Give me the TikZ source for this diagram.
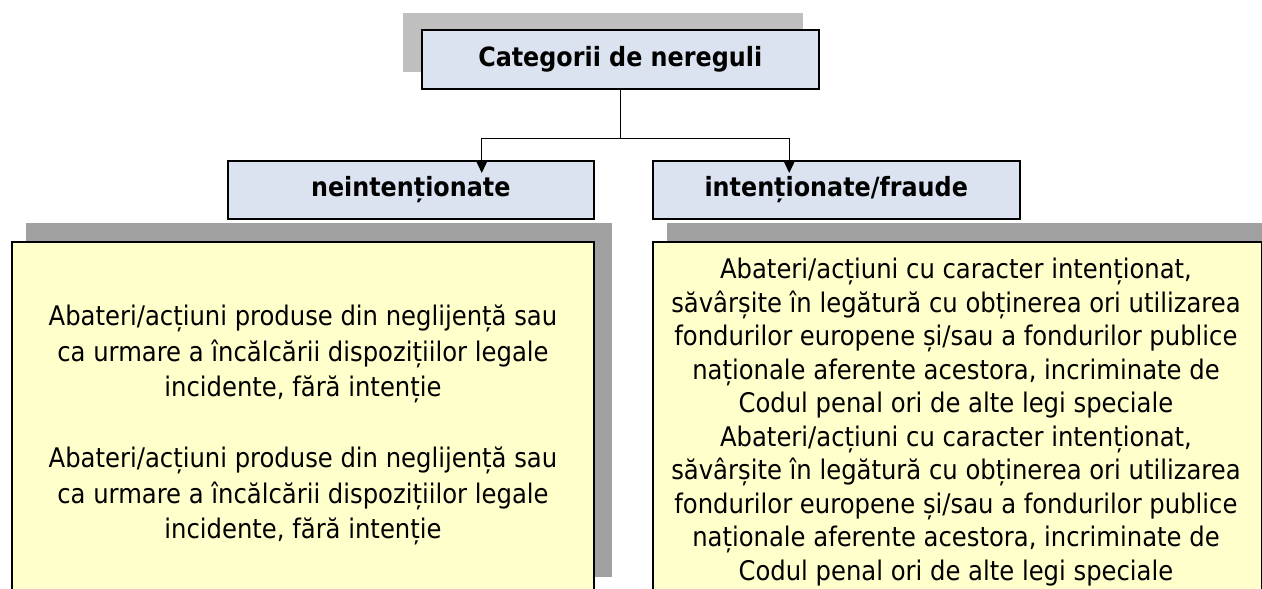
\documentclass[tikz,border=0pt]{standalone}
\usepackage{fontspec}
\setmainfont{DejaVu Sans Condensed}
\usetikzlibrary{arrows.meta}
\definecolor{hdr}{HTML}{DCE3F0}
\definecolor{note}{HTML}{FFFFCC}
\definecolor{shadeA}{HTML}{BFBFBF}
\definecolor{shadeB}{HTML}{A0A0A0}
\begin{document}
\begin{tikzpicture}[x=1pt,y=-1pt,
  hdrbox/.style={draw=black,line width=1.5pt,fill=hdr,anchor=north west,inner sep=0pt,
    font=\bfseries\fontsize{26.5}{30}\selectfont},
  notebox/.style={draw=black,line width=1.5pt,fill=note,anchor=north west,inner sep=0pt},
  notetext/.style={anchor=north,align=center,inner sep=0pt},
  arr/.style={line width=1.2pt,-{Triangle[length=13pt,width=12pt]}}]
\useasboundingbox (0,0) rectangle (1262,589);
\clip (0,0) rectangle (1262,589);
% shadows
\fill[shadeA] (403,13) rectangle (803,72);
\fill[shadeB] (26,223) rectangle (612,577);
\fill[shadeB] (667,223) rectangle (1270,600);
% boxes
\node[hdrbox,minimum width=397pt,minimum height=59pt] (top) at (421,29) {Categorii de nereguli};
\node[hdrbox,minimum width=366pt,minimum height=58pt] (neint) at (227,160) {neintenționate};
\node[hdrbox,minimum width=367pt,minimum height=58pt] (intf) at (652,160) {intenționate/fraude};
\node[notebox,minimum width=582pt,minimum height=400pt] (lbox) at (11,241) {};
\node[notebox,minimum width=609pt,minimum height=400pt] (rbox) at (652,241) {};
% texts
\node[notetext,font=\fontsize{27}{35.5}\selectfont] (ltext) at (303,305) {Abateri/acțiuni produse din neglijență sau\\ca urmare a încălcării dispozițiilor legale\\incidente, fără intenție\\[35.5pt]Abateri/acțiuni produse din neglijență sau\\ca urmare a încălcării dispozițiilor legale\\incidente, fără intenție};
\node[notetext,font=\fontsize{27}{33.5}\selectfont] (rtext) at (956,258) {Abateri/acțiuni cu caracter intenționat,\\săvârșite în legătură cu obținerea ori utilizarea\\fondurilor europene și/sau a fondurilor publice\\naționale aferente acestora, incriminate de\\Codul penal ori de alte legi speciale\\Abateri/acțiuni cu caracter intenționat,\\săvârșite în legătură cu obținerea ori utilizarea\\fondurilor europene și/sau a fondurilor publice\\naționale aferente acestora, incriminate de\\Codul penal ori de alte legi speciale};
% connectors
\coordinate (fork) at ([yshift=-49pt]top.south);
\draw[line width=1.2pt] (top.south) -- (fork);
\draw[arr] (fork) -| ([xshift=71pt,yshift=-13pt]neint.north);
\draw[arr] (fork) -| ([xshift=-47pt,yshift=-13pt]intf.north);
\end{tikzpicture}
\end{document}
